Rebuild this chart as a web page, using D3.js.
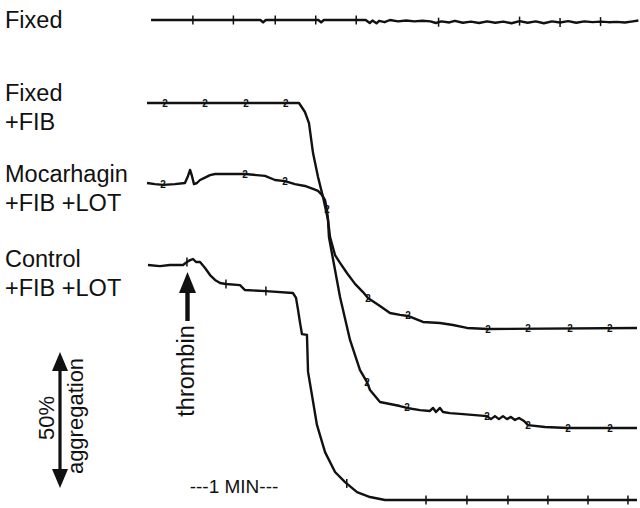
<!DOCTYPE html>
<html>
<head>
<meta charset="utf-8">
<script src="https://cdn.jsdelivr.net/npm/d3@7"></script>
<style>
  body { margin: 0; background: #fff; }
  svg { display: block; font-family: "Liberation Sans", Arial, sans-serif; }
</style>
</head>
<body>
<svg id="chart" width="640" height="508"></svg>
<script>
// Aggregometer traces: [time (s), % aggregation]
var fixedTrace = [[3,0],[84,0],[86,0.9],[88,0],[127,0],[129,0.9],[131,0],[162,0],[165,1.1],[167,0.2],
  [170,1.2],[172,0.3],[176,0.8],[180,0],[186,0.5],[192,0.2],[198,0.5],[204,0.3],[210,0.5],[214,1.1],
  [218,0.5],[224,0.9],[228,0.3],[234,1.0],[240,0.6],[246,1.1],[252,0.5],[258,1.0],[264,0.6],[270,1.2],
  [276,0.4],[282,1.0],[288,0.5],[294,1.2],[300,0.5],[306,0.9],[312,0.4],[318,1.0],[324,0.5],[330,0.8],
  [336,0.6],[342,0.8],[348,0.7],[354,0.9],[360,0.5],[364,0.2]];

var fixedFibTrace = [[0,0],[112.6,0],[117,3.3],[120,7.4],[123,18.4],[126.7,27.2],[130.4,34.6],
  [134.1,43],[135.6,49.3],[139.3,55.9],[143,58.8],[148.1,62.5],[154.1,66.5],[160,69.5],[163.7,71.7],
  [172.6,74.6],[180,77.2],[187.4,77.9],[193.3,78.3],[204.4,80.5],[217,80.9],[226.7,81.6],[237,82.7],
  [252.6,83.1],[363,82.7]];

var mocarhaginTrace = [[0,0],[5.9,0.4],[11.9,0.7],[20.7,0.4],[28.1,0],[30.4,-2.6],[31.9,-4.8],
  [33.3,-2.6],[34.8,0.4],[37,0],[39.3,-1.1],[42.2,-1.8],[46.7,-2.9],[50.4,-3.3],[72.6,-3.3],
  [87.4,-2.6],[94.8,-1.1],[102.2,-0.7],[109.6,0.4],[117,1.1],[123,2.2],[126.7,2.9],[129.6,4.4],
  [131.9,6.3],[133.3,9.9],[134.1,13.6],[134.8,19.9],[135.6,22.1],[139.3,32],[143,41.9],[150.4,57.7],
  [157.8,68.8],[163,73.2],[165.2,76.1],[172.6,80.5],[187.4,82],[192.6,82.7],[202.2,83.5],[209.6,83.8],
  [211.9,82.7],[214.1,84.2],[217,82.7],[219.3,84.2],[224.4,84.6],[231.9,84.9],[251.9,85.7],
  [254.8,86.8],[257.8,85.7],[260.7,86.8],[263.7,85.7],[266.7,86.8],[269.6,86],[272.6,87.1],
  [275.6,86.4],[279.3,87.5],[282.2,89],[294.8,89.7],[311.9,90.1],[363,90.1]];

var controlTrace = [[0.7,0],[9.6,0.4],[17,0],[26.7,0],[29.6,-1.1],[31.9,-1.8],[34.1,-2.2],[36.3,-1.1],
  [39.3,-1.1],[43,1.1],[46.7,3.7],[50.4,5.5],[54.1,6.6],[58.5,7],[68.9,7.4],[72.6,9.2],[88.1,9.6],
  [108.1,10.3],[110.4,12.1],[111.9,16.5],[113.3,21],[114.8,25.4],[118.5,25.7],[119.3,39.3],
  [122.2,47.8],[125.9,58.8],[131.9,68.8],[139.3,76.1],[146.7,79.8],[155.6,83.5],[165.2,85.3],
  [176.3,86.4],[363,86.4]];

// recorder time marks (s)
var fixedTicks = [34, 64, 95, 125, 155, 216, 276, 306, 336];
var fixedFibMarks = [13.3, 43, 73.3, 102.9, 163.7, 193.3, 252.6, 282.2, 313.3, 342.9];
var mocarhaginMarks = [11.9, 72.6, 102.2, 133.3, 163, 192.6, 251.9, 282.2, 311.9, 343];
var controlTicks = [29.6, 58.5, 88.1, 148, 206.7, 237, 267.4, 297, 326.7, 356.3];

var traceNames = ["fixed", "fixedFib", "mocarhagin", "control"];
var traceLabels = [["Fixed"], ["Fixed", "+FIB"], ["Mocarhagin", "+FIB +LOT"], ["Control", "+FIB +LOT"]];
var thrombinTime = 30;
var scaleBarPct = 50;
var minuteLabel = "---1 MIN---";

// layout
var traceTop = { fixed: 20, fixedFib: 103, mocarhagin: 183, control: 265 };
var labelBaseline = { fixed: 28, fixedFib: 101, mocarhagin: 182, control: 267 };

var svg = d3.select("#chart");
var x = d3.scaleLinear().domain([0, 363]).range([147, 637]);
var agg = d3.scaleLinear().domain([0, 100]).range([0, 272]);
var ink = "#111";

var traces = {
  fixed: { data: fixedTrace, ticks: fixedTicks, marks: [] },
  fixedFib: { data: fixedFibTrace, ticks: [], marks: fixedFibMarks },
  mocarhagin: { data: mocarhaginTrace, ticks: [], marks: mocarhaginMarks },
  control: { data: controlTrace, ticks: controlTicks, marks: [] }
};

function valueAt(series, t) {
  var i = d3.bisector(function (d) { return d[0]; }).left(series, t);
  if (i <= 0) return series[0][1];
  if (i >= series.length) return series[series.length - 1][1];
  var a = series[i - 1], b = series[i];
  return a[1] + (b[1] - a[1]) * (t - a[0]) / (b[0] - a[0]);
}

traceNames.forEach(function (name, k) {
  var tr = traces[name], top = traceTop[name];
  var yOf = function (v) { return top + agg(v); };
  var line = d3.line().x(function (d) { return x(d[0]); }).y(function (d) { return yOf(d[1]); });

  svg.append("path").datum(tr.data)
    .attr("d", line).attr("fill", "none")
    .attr("stroke", ink).attr("stroke-width", 2.4).attr("stroke-linejoin", "round");

  svg.append("g").selectAll("line").data(tr.ticks).join("line")
    .attr("x1", function (t) { return x(t); }).attr("x2", function (t) { return x(t); })
    .attr("y1", function (t) { return yOf(valueAt(tr.data, t)) - 4.5; })
    .attr("y2", function (t) { return yOf(valueAt(tr.data, t)) + 4.5; })
    .attr("stroke", ink).attr("stroke-width", 1.5);

  svg.append("g").selectAll("text").data(tr.marks).join("text")
    .attr("x", function (t) { return x(t); })
    .attr("y", function (t) { return yOf(valueAt(tr.data, t)) + 3.5; })
    .attr("text-anchor", "middle").attr("font-size", 10).attr("font-weight", "bold")
    .attr("fill", ink).text("2");

  var lbl = svg.append("text").attr("x", 5).attr("y", labelBaseline[name])
    .attr("font-size", 23.5).attr("fill", ink);
  traceLabels[k].forEach(function (s, j) {
    lbl.append("tspan").attr("x", 5).attr("dy", j === 0 ? 0 : 28.5).text(s);
  });
});

// thrombin arrow
var tx = x(thrombinTime);
svg.append("rect").attr("x", tx - 2.2).attr("y", 290).attr("width", 4.4).attr("height", 31).attr("fill", ink);
svg.append("path").attr("d", "M" + (tx - 8.5) + ",293L" + (tx + 8.5) + ",293L" + tx + ",272Z").attr("fill", ink);
svg.append("text").attr("transform", "translate(" + (tx + 7) + ",371) rotate(-90)")
  .attr("text-anchor", "middle").attr("font-size", 23.5).attr("fill", ink).text("thrombin");

// 50% aggregation scale bar
var sx = 60, sTop = 352, sBot = sTop + agg(scaleBarPct);
svg.append("rect").attr("x", sx - 1.6).attr("y", sTop + 15).attr("width", 3.2).attr("height", sBot - sTop - 30).attr("fill", ink);
svg.append("path").attr("d", "M" + (sx - 8) + "," + (sTop + 19) + "L" + (sx + 8) + "," + (sTop + 19) + "L" + sx + "," + sTop + "Z").attr("fill", ink);
svg.append("path").attr("d", "M" + (sx - 8) + "," + (sBot - 19) + "L" + (sx + 8) + "," + (sBot - 19) + "L" + sx + "," + sBot + "Z").attr("fill", ink);
svg.append("text").attr("transform", "translate(54,418) rotate(-90)")
  .attr("text-anchor", "middle").attr("font-size", 22).attr("fill", ink).text(scaleBarPct + "%");
svg.append("text").attr("transform", "translate(83,416) rotate(-90)")
  .attr("text-anchor", "middle").attr("font-size", 22).attr("fill", ink).text("aggregation");

// time scale label
svg.append("text").attr("x", 234).attr("y", 493).attr("text-anchor", "middle")
  .attr("font-size", 19).attr("fill", ink).text(minuteLabel);
</script>
</body>
</html>
